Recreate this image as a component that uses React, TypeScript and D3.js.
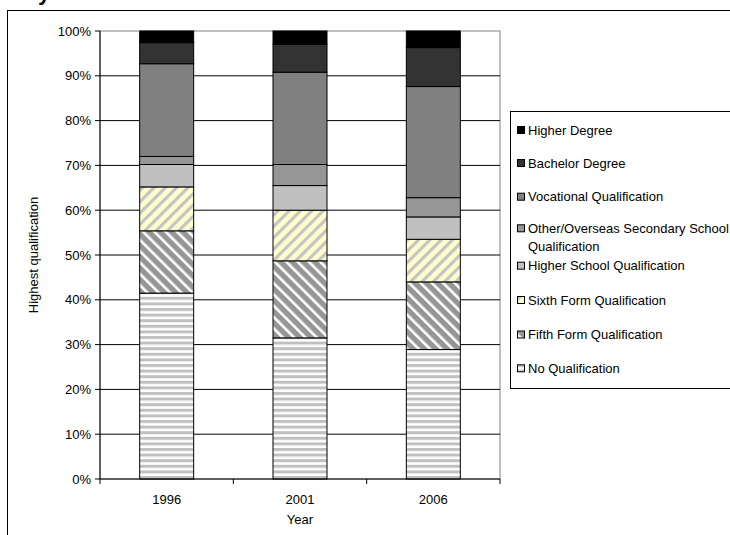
import React from "react";
import * as d3 from "d3";

const years = ["1996", "2001", "2006"];
const seriesNames = [
  "No Qualification",
  "Fifth Form Qualification",
  "Sixth Form Qualification",
  "Higher School Qualification",
  "Other/Overseas Secondary School Qualification",
  "Vocational Qualification",
  "Bachelor Degree",
  "Higher Degree",
];
const noQualification = [41.5, 31.5, 28.9];
const fifthForm = [13.9, 17.2, 15.1];
const sixthForm = [9.8, 11.3, 9.5];
const higherSchool = [5.0, 5.5, 5.0];
const otherOverseas = [1.8, 4.7, 4.3];
const vocational = [20.7, 20.6, 24.8];
const bachelor = [4.7, 6.2, 8.7];
const higherDegree = [2.6, 3.0, 3.7];
const yTicks = [0, 10, 20, 30, 40, 50, 60, 70, 80, 90, 100];

const seriesValues = [noQualification, fifthForm, sixthForm, higherSchool, otherOverseas, vocational, bachelor, higherDegree];
const fills = [
  "url(#p-noqual)",
  "url(#p-fifth)",
  "url(#p-sixth)",
  "#C0C0C0",
  "#969696",
  "#808080",
  "#333333",
  "#000000",
];
const legendLabels: string[][] = [
  ["Higher Degree"],
  ["Bachelor Degree"],
  ["Vocational Qualification"],
  ["Other/Overseas Secondary School", "Qualification"],
  ["Higher School Qualification"],
  ["Sixth Form Qualification"],
  ["Fifth Form Qualification"],
  ["No Qualification"],
];
const legendRowY = [130, 163, 196.7, 228.3, 265.7, 300, 334.5, 368.3];

export default function App() {
  const W = 730, H = 535;
  const left = 100, right = 500, top = 31, bottom = 479;
  const font = "'Liberation Sans', Arial, sans-serif";

  const table = years.map((yr, i) => {
    const row: any = { year: yr };
    seriesNames.forEach((s, k) => (row[s] = seriesValues[k][i]));
    return row;
  });
  const stack = d3.stack().keys(seriesNames)(table);

  const x = d3.scaleBand().domain(years).range([left, right]).paddingInner(0.595).paddingOuter(0.2975);
  const xStep = x.step();
  const y = d3.scaleLinear().domain([0, 100]).range([bottom, top]);

  return (
    <svg width={W} height={H} style={{ position: "absolute", left: 0, top: 0, background: "#fff" }} fontFamily={font}>
      <defs>
        <pattern id="p-sixth" patternUnits="userSpaceOnUse" width={8} height={8} patternTransform="rotate(45)">
          <rect width={8} height={8} fill="#FFFFCC" />
          <rect width={3.2} height={8} fill="#C4C4C4" />
        </pattern>
        <pattern id="p-fifth" patternUnits="userSpaceOnUse" width={8} height={8} patternTransform="rotate(-45)">
          <rect width={8} height={8} fill="#969696" />
          <rect width={2.6} height={8} fill="#FFFFFF" />
        </pattern>
        <pattern id="p-noqual" patternUnits="userSpaceOnUse" width={8} height={5.6}>
          <rect width={8} height={5.6} fill="#FFFFFF" />
          <rect width={8} height={3} fill="#C0C0C0" />
        </pattern>
      </defs>

      {/* outer frame (partially cut off) */}
      <rect x={7.5} y={10.5} width={760} height={600} fill="none" stroke="#000" strokeWidth={1} />
      <text x={38} y={0} fontSize={22} fontWeight="bold" fill="#000">y</text>

      {/* plot area border */}
      <rect x={left} y={top} width={right - left} height={bottom - top} fill="#fff" stroke="#808080" strokeWidth={1} />

      {/* gridlines */}
      {yTicks.filter((t) => t > 0 && t < 100).map((t) => (
        <line key={t} x1={left} x2={right} y1={y(t)} y2={y(t)} stroke="#000" strokeWidth={1} />
      ))}

      {/* bars */}
      {stack.map((layer, k) => (
        <g key={k}>
          {layer.map((d, i) => (
            <rect
              key={i}
              x={x(years[i])!}
              width={x.bandwidth()}
              y={y(d[1])}
              height={y(d[0]) - y(d[1])}
              fill={fills[k]}
              stroke="#000"
              strokeWidth={1}
            />
          ))}
        </g>
      ))}

      {/* y axis */}
      <line x1={left} x2={left} y1={top} y2={bottom} stroke="#000" />
      {yTicks.map((t) => (
        <g key={t}>
          <line x1={left - 5} x2={left} y1={y(t)} y2={y(t)} stroke="#000" />
          <text x={left - 9} y={y(t)} dy="0.35em" textAnchor="end" fontSize={13} fill="#000">
            {t}%
          </text>
        </g>
      ))}

      {/* x axis */}
      <line x1={left} x2={right} y1={bottom} y2={bottom} stroke="#000" />
      {[0, 1, 2, 3].map((i) => (
        <line key={i} x1={left + i * xStep} x2={left + i * xStep} y1={bottom} y2={bottom + 5} stroke="#000" />
      ))}
      {years.map((yr) => (
        <text key={yr} x={x(yr)! + x.bandwidth() / 2} y={499} dy="0.35em" textAnchor="middle" fontSize={13} fill="#000">
          {yr}
        </text>
      ))}
      <text x={(left + right) / 2} y={519.5} dy="0.35em" textAnchor="middle" fontSize={13} fill="#000">Year</text>
      <text
        transform={`translate(33,${(top + bottom) / 2}) rotate(-90)`}
        textAnchor="middle"
        dy="0.35em"
        fontSize={13}
        fill="#000"
      >
        Highest qualification
      </text>

      {/* legend */}
      <rect x={510.5} y={111.5} width={260} height={277} fill="#fff" stroke="#000" strokeWidth={1} />
      {legendLabels.map((lines, j) => {
        const k = seriesNames.length - 1 - j;
        const cy = legendRowY[j];
        return (
          <g key={j}>
            <rect x={517.5} y={cy - 3.5} width={7} height={7} fill={fills[k]} stroke="#000" strokeWidth={1} />
            {lines.map((ln, li) => (
              <text key={li} x={528} y={cy + li * 18.4} dy="0.35em" fontSize={13} fill="#000">
                {ln}
              </text>
            ))}
          </g>
        );
      })}
    </svg>
  );
}
